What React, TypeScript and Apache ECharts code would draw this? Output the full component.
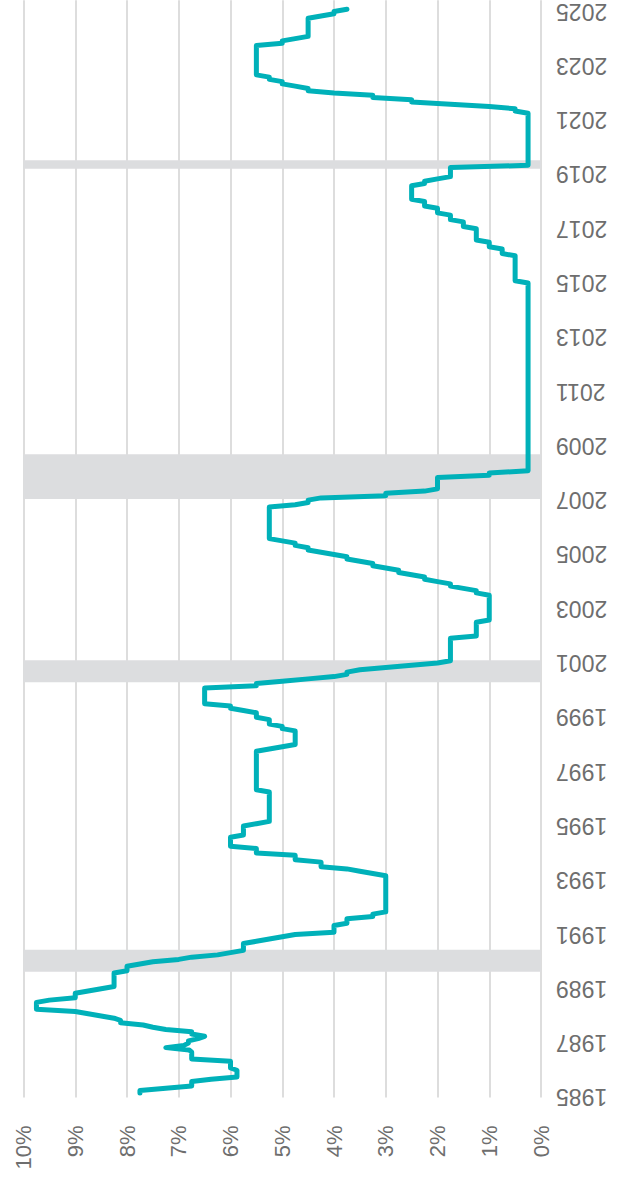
import React, { useEffect, useRef } from "react";
import * as echarts from "echarts";

// Month index m = months since Jan 1985 (Jan 1985 = 0). Series starts Jan 1986.
const firstMonthIndex = 12;

// Fed funds target rate (upper bound), end of month, Jan..Dec per row, 1986-2025
const targetRate: number[][] = [
  [7.75, 7.75, 7.25, 6.75, 6.75, 6.75, 6.375, 5.875, 5.875, 5.875, 5.875, 6.0], // 1986
  [6.0, 6.0, 6.0, 6.75, 6.75, 6.75, 6.75, 6.8, 7.25, 6.9, 6.8125, 6.8125], // 1987
  [6.625, 6.5, 6.75, 6.75, 7.25, 7.5, 7.6875, 8.125, 8.125, 8.25, 8.5, 8.75], // 1988
  [9.0, 9.75, 9.75, 9.75, 9.75, 9.5, 9.0, 9.0, 9.0, 8.75, 8.5, 8.25], // 1989
  [8.25, 8.25, 8.25, 8.25, 8.25, 8.25, 8.0, 8.0, 8.0, 7.75, 7.5, 7.0], // 1990
  [6.75, 6.25, 6.0, 5.75, 5.75, 5.75, 5.75, 5.5, 5.25, 5.0, 4.75, 4.0], // 1991
  [4.0, 4.0, 4.0, 3.75, 3.75, 3.75, 3.25, 3.25, 3.0, 3.0, 3.0, 3.0], // 1992
  [3.0, 3.0, 3.0, 3.0, 3.0, 3.0, 3.0, 3.0, 3.0, 3.0, 3.0, 3.0], // 1993
  [3.0, 3.25, 3.5, 3.75, 4.25, 4.25, 4.25, 4.75, 4.75, 4.75, 5.5, 5.5], // 1994
  [5.5, 6.0, 6.0, 6.0, 6.0, 6.0, 5.75, 5.75, 5.75, 5.75, 5.75, 5.5], // 1995
  [5.25, 5.25, 5.25, 5.25, 5.25, 5.25, 5.25, 5.25, 5.25, 5.25, 5.25, 5.25], // 1996
  [5.25, 5.25, 5.5, 5.5, 5.5, 5.5, 5.5, 5.5, 5.5, 5.5, 5.5, 5.5], // 1997
  [5.5, 5.5, 5.5, 5.5, 5.5, 5.5, 5.5, 5.5, 5.25, 5.0, 4.75, 4.75], // 1998
  [4.75, 4.75, 4.75, 4.75, 4.75, 5.0, 5.0, 5.25, 5.25, 5.25, 5.5, 5.5], // 1999
  [5.5, 5.75, 6.0, 6.0, 6.5, 6.5, 6.5, 6.5, 6.5, 6.5, 6.5, 6.5], // 2000
  [5.5, 5.5, 5.0, 4.5, 4.0, 3.75, 3.75, 3.5, 3.0, 2.5, 2.0, 1.75], // 2001
  [1.75, 1.75, 1.75, 1.75, 1.75, 1.75, 1.75, 1.75, 1.75, 1.75, 1.25, 1.25], // 2002
  [1.25, 1.25, 1.25, 1.25, 1.25, 1.0, 1.0, 1.0, 1.0, 1.0, 1.0, 1.0], // 2003
  [1.0, 1.0, 1.0, 1.0, 1.0, 1.25, 1.25, 1.5, 1.75, 1.75, 2.0, 2.25], // 2004
  [2.25, 2.5, 2.75, 2.75, 3.0, 3.25, 3.25, 3.5, 3.75, 3.75, 4.0, 4.25], // 2005
  [4.5, 4.5, 4.75, 4.75, 5.0, 5.25, 5.25, 5.25, 5.25, 5.25, 5.25, 5.25], // 2006
  [5.25, 5.25, 5.25, 5.25, 5.25, 5.25, 5.25, 5.25, 4.75, 4.5, 4.5, 4.25], // 2007
  [3.0, 3.0, 2.25, 2.0, 2.0, 2.0, 2.0, 2.0, 2.0, 1.0, 1.0, 0.25], // 2008
  [0.25, 0.25, 0.25, 0.25, 0.25, 0.25, 0.25, 0.25, 0.25, 0.25, 0.25, 0.25], // 2009
  [0.25, 0.25, 0.25, 0.25, 0.25, 0.25, 0.25, 0.25, 0.25, 0.25, 0.25, 0.25], // 2010
  [0.25, 0.25, 0.25, 0.25, 0.25, 0.25, 0.25, 0.25, 0.25, 0.25, 0.25, 0.25], // 2011
  [0.25, 0.25, 0.25, 0.25, 0.25, 0.25, 0.25, 0.25, 0.25, 0.25, 0.25, 0.25], // 2012
  [0.25, 0.25, 0.25, 0.25, 0.25, 0.25, 0.25, 0.25, 0.25, 0.25, 0.25, 0.25], // 2013
  [0.25, 0.25, 0.25, 0.25, 0.25, 0.25, 0.25, 0.25, 0.25, 0.25, 0.25, 0.25], // 2014
  [0.25, 0.25, 0.25, 0.25, 0.25, 0.25, 0.25, 0.25, 0.25, 0.25, 0.25, 0.5], // 2015
  [0.5, 0.5, 0.5, 0.5, 0.5, 0.5, 0.5, 0.5, 0.5, 0.5, 0.5, 0.75], // 2016
  [0.75, 0.75, 1.0, 1.0, 1.0, 1.25, 1.25, 1.25, 1.25, 1.25, 1.25, 1.5], // 2017
  [1.5, 1.5, 1.75, 1.75, 1.75, 2.0, 2.0, 2.0, 2.25, 2.25, 2.25, 2.5], // 2018
  [2.5, 2.5, 2.5, 2.5, 2.5, 2.5, 2.25, 2.25, 2.0, 1.75, 1.75, 1.75], // 2019
  [1.75, 1.75, 0.25, 0.25, 0.25, 0.25, 0.25, 0.25, 0.25, 0.25, 0.25, 0.25], // 2020
  [0.25, 0.25, 0.25, 0.25, 0.25, 0.25, 0.25, 0.25, 0.25, 0.25, 0.25, 0.25], // 2021
  [0.25, 0.25, 0.5, 0.5, 1.0, 1.75, 2.5, 2.5, 3.25, 3.25, 4.0, 4.5], // 2022
  [4.5, 4.75, 5.0, 5.0, 5.25, 5.25, 5.5, 5.5, 5.5, 5.5, 5.5, 5.5], // 2023
  [5.5, 5.5, 5.5, 5.5, 5.5, 5.5, 5.5, 5.5, 5.0, 5.0, 4.75, 4.5], // 2024
  [4.5, 4.5, 4.5, 4.5, 4.5, 4.5, 4.5, 4.5, 4.25, 4.0, 4.0, 3.75], // 2025
];

// Recessions (month index of first and last month)
const recessionStart = [66, 194, 275, 421]; // Jul 1990, Mar 2001, Dec 2007, Feb 2020
const recessionEnd = [74, 202, 293, 423]; // Mar 1991, Nov 2001, Jun 2009, Apr 2020

// Year axis: labels every 24 months, first label "1985" at month index 10
const yearAxisOrigin = 10;
const yearAxisMax = 485;
const yearLabelStep = 24;
const firstLabelYear = 1985;

// Percent axis
const pctMin = 0;
const pctMax = 10;
const pctStep = 1;

export default function App() {
  const ref = useRef<HTMLDivElement>(null);

  useEffect(() => {
    document.body.style.margin = "0";
    if (!ref.current) return;
    const chart = echarts.init(ref.current, undefined, { renderer: "svg" });

    const data: [number, number][] = [];
    targetRate.forEach((row, yi) => {
      row.forEach((v, mi) => {
        const m = firstMonthIndex + yi * 12 + mi;
        data.push([v, m - yearAxisOrigin]);
      });
    });

    const bands = recessionStart.map((s, i) => [
      { yAxis: s - 0.5 - yearAxisOrigin },
      { yAxis: recessionEnd[i] + 1.25 - yearAxisOrigin },
    ]);

    const labelFont = {
      color: "#6e6e6e",
      fontFamily: "'Liberation Sans', Arial, Helvetica, sans-serif",
    };

    chart.setOption({
      animation: false,
      grid: { left: 23.5, right: 82, top: 0, bottom: 87.6, containLabel: false },
      xAxis: {
        type: "value",
        inverse: true,
        position: "bottom",
        min: pctMin,
        max: pctMax,
        interval: pctStep,
        axisLine: { show: false },
        axisTick: { show: false },
        splitLine: { show: true, lineStyle: { color: "#dddddd", width: 2 } },
        axisLabel: {
          ...labelFont,
          fontSize: 22,
          rotate: 90,
          margin: 28,
          formatter: (v: number) => `${v}%`,
        },
      },
      yAxis: {
        type: "value",
        position: "right",
        min: 0,
        max: yearAxisMax,
        interval: yearLabelStep,
        axisLine: { show: false },
        axisTick: { show: false },
        splitLine: { show: false },
        axisLabel: {
          ...labelFont,
          fontSize: 23,
          rotate: 180,
          margin: 15,
          showMaxLabel: false,
          formatter: (v: number) =>
            v % yearLabelStep === 0 ? String(firstLabelYear + v / 12) : "",
        },
      },
      series: [
        {
          type: "line",
          data,
          showSymbol: false,
          symbol: "none",
          lineStyle: { color: "#00b1b9", width: 5, cap: "round", join: "round" },
          markArea: {
            silent: true,
            itemStyle: { color: "#dcdddf" },
            data: bands,
          },
        },
      ],
    });

    return () => chart.dispose();
  }, []);

  return <div ref={ref} style={{ width: 623, height: 1185 }} />;
}
